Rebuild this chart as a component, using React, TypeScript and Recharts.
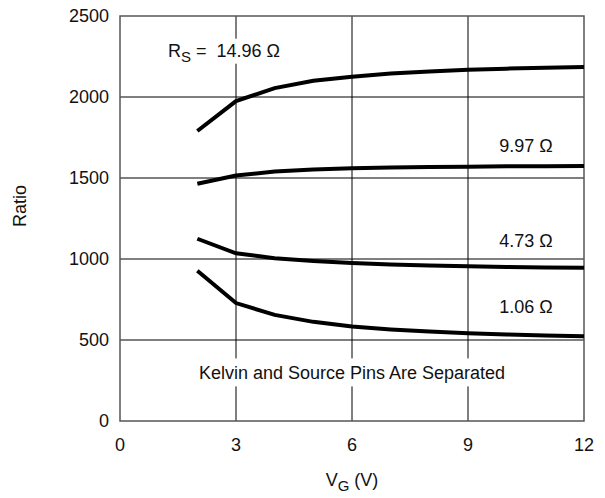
import { LineChart, Line, XAxis, YAxis, CartesianGrid, ReferenceArea, ReferenceDot, Label } from 'recharts';

const vg = [2, 3, 4, 5, 6, 7, 8, 9, 10, 11, 12];
const rs1496 = [1790, 1975, 2055, 2100, 2125, 2145, 2158, 2168, 2175, 2180, 2185];
const rs997 = [1465, 1515, 1540, 1552, 1560, 1565, 1568, 1570, 1572, 1573, 1574];
const rs473 = [1125, 1035, 1005, 988, 975, 966, 960, 955, 951, 948, 946];
const rs106 = [928, 728, 655, 612, 583, 565, 552, 542, 534, 528, 523];
const xTicks = [0, 3, 6, 9, 12];
const yTicks = [0, 500, 1000, 1500, 2000, 2500];

const data = vg.map((v, i) => ({ vg: v, a: rs1496[i], b: rs997[i], c: rs473[i], d: rs106[i] }));

const FONT = 'Liberation Sans, Arial, sans-serif';

function TextNote({ cx, cy, text, bg }: any) {
  return (
    <g>
      {bg && <rect x={cx - bg[0] / 2} y={cy - bg[1] / 2} width={bg[0]} height={bg[1]} fill="#fff" />}
      <text x={cx} y={cy} dy="0.355em" textAnchor="middle" fontSize={18} fontFamily={FONT} fill="#111">
        {text}
      </text>
    </g>
  );
}

function RsNote({ cx, cy }: any) {
  return (
    <g>
      <rect x={cx - 64} y={cy - 12} width={128} height={25} fill="#fff" />
      <text x={cx} y={cy} dy="0.355em" textAnchor="middle" fontSize={18} fontFamily={FONT} fill="#111" style={{ whiteSpace: 'pre' }}>
        R<tspan fontSize={15} dy={5}>S</tspan><tspan dy={-5}>{' =  14.96 \u03A9'}</tspan>
      </text>
    </g>
  );
}

export default function App() {
  return (
    <div style={{ width: 605, height: 498, background: '#fff' }}>
      <style>{`body{margin:0}`}</style>
      <LineChart width={605} height={498} data={data} margin={{ top: 16, right: 21, bottom: 0, left: 0 }}>
        <CartesianGrid stroke="#000" strokeWidth={1} horizontalValues={[500, 1000, 1500, 2000]} verticalValues={[3, 6, 9]} />
        <XAxis
          dataKey="vg"
          type="number"
          domain={[0, 12]}
          ticks={xTicks}
          height={77}
          tickLine={false}
          axisLine={false}
          tickMargin={11}
          tick={{ fontSize: 18, fontFamily: FONT, fill: '#111' }}
        >
          <Label
            content={() => (
              <text x={352} y={480} dy="0.355em" textAnchor="middle" fontSize={18} fontFamily={FONT} fill="#111">
                V<tspan fontSize={15} dy={5}>G</tspan><tspan dy={-5}> (V)</tspan>
              </text>
            )}
          />
        </XAxis>
        <YAxis
          type="number"
          domain={[0, 2500]}
          ticks={yTicks}
          width={120}
          tickLine={false}
          axisLine={false}
          tickMargin={5}
          tick={{ fontSize: 18, fontFamily: FONT, fill: '#111' }}
        >
          <Label
            content={() => (
              <text x={20} y={206} dy="0.355em" textAnchor="middle" fontSize={18} fontFamily={FONT} fill="#111" transform="rotate(-90, 20, 206)">
                Ratio
              </text>
            )}
          />
        </YAxis>
        <ReferenceDot x={2.69} y={2286} r={0} shape={(p: any) => <RsNote cx={p.cx} cy={p.cy} />} />
        <ReferenceDot x={6} y={300} r={0} shape={(p: any) => <TextNote cx={p.cx} cy={p.cy} text="Kelvin and Source Pins Are Separated" bg={[326, 28]} />} />
        <ReferenceDot x={10.5} y={1700} r={0} shape={(p: any) => <TextNote cx={p.cx} cy={p.cy} text={'9.97 \u03A9'} />} />
        <ReferenceDot x={10.5} y={1114} r={0} shape={(p: any) => <TextNote cx={p.cx} cy={p.cy} text={'4.73 \u03A9'} />} />
        <ReferenceDot x={10.5} y={708} r={0} shape={(p: any) => <TextNote cx={p.cx} cy={p.cy} text={'1.06 \u03A9'} />} />
        <ReferenceArea x1={0} x2={12} y1={0} y2={2500} fill="none" stroke="#555" strokeWidth={1.5} />
        <Line dataKey="a" type="linear" stroke="#000" strokeWidth={4} dot={false} isAnimationActive={false} />
        <Line dataKey="b" type="linear" stroke="#000" strokeWidth={4} dot={false} isAnimationActive={false} />
        <Line dataKey="c" type="linear" stroke="#000" strokeWidth={4} dot={false} isAnimationActive={false} />
        <Line dataKey="d" type="linear" stroke="#000" strokeWidth={4} dot={false} isAnimationActive={false} />
      </LineChart>
    </div>
  );
}
